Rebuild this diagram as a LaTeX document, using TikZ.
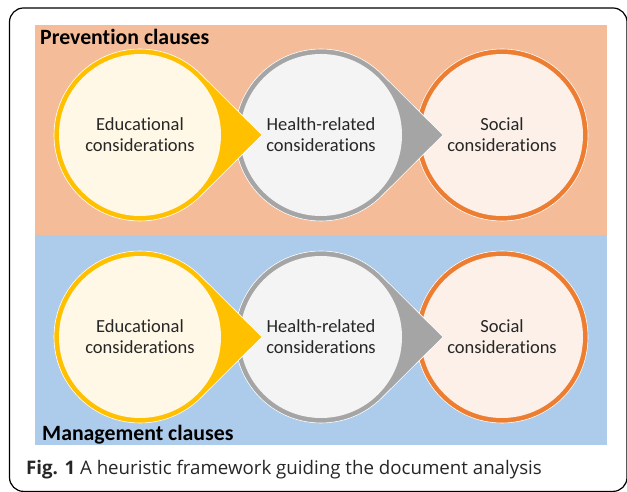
\documentclass[tikz,border=0pt]{standalone}
\usepackage{fontspec}
\setmainfont{Carlito}[Ligatures=NoCommon]
\newfontfamily\capfont{Open Sans}
\usetikzlibrary{calc}
\newcommand*{\crad}{86}
\newcommand*{\tipd}{122}
\newcommand*{\tang}{45.2}
\definecolor{panelorange}{HTML}{F4BC98}
\definecolor{panelblue}{HTML}{ADCBEA}
\definecolor{edustroke}{HTML}{FFC000}
\definecolor{edufill}{HTML}{FFF8E6}
\definecolor{hltstroke}{HTML}{A5A5A5}
\definecolor{hltfill}{HTML}{F4F4F4}
\definecolor{socstroke}{HTML}{ED7D31}
\definecolor{socfill}{HTML}{FCF0E9}

\begin{document}
\begin{tikzpicture}[x=1pt, y=1pt,
    ring/.style   = {draw=white, line width=0.6pt},
    bubble/.style = {circle, minimum size=162pt, inner sep=0pt, align=center, text=black!85,
                     font=\fontsize{18.5}{21}\selectfont},
    heading/.style= {anchor=west, inner sep=0pt, font=\bfseries\fontsize{21.8}{24}\selectfont}]
    \useasboundingbox (0,0) rectangle (627,492);
    \draw [line width=1.2pt, rounded corners=14pt] (9.5,0.6) rectangle (627,484);
    \fill [panelorange] (35,257) rectangle (607,467);
    \fill [panelblue]   (35,47)  rectangle (607,257);
    \foreach \y/\r in {357/p, 155/m} {
        \filldraw [ring, fill=socstroke] (502,\y) circle (\crad);
        \node [bubble, fill=socfill] (soc\r) at (502,\y) {Social\\considerations};
        \filldraw [ring, fill=hltstroke] (321,\y) ++(\tang:\crad) arc [start angle=\tang, end angle=360-\tang, radius=\crad] -- (321+\tipd,\y) -- cycle;
        \node [bubble, fill=hltfill] (hlt\r) at (321,\y) {Health-related\\considerations};
        \filldraw [ring, fill=edustroke] (140,\y) ++(\tang:\crad) arc [start angle=\tang, end angle=360-\tang, radius=\crad] -- (140+\tipd,\y) -- cycle;
        \node [bubble, fill=edufill] (edu\r) at (140,\y) {Educational\\considerations};
    }
    \node [heading] (prev) at (40,455) {Prevention clauses};
    \node [heading] (mgmt) at (42,57)  {Management clauses};
    \node [anchor=west, inner sep=0pt, text=black!85, font=\capfont\fontsize{18.7}{22}\selectfont] (caption) at (26,22)
        {\textbf{Fig. 1} A heuristic framework guiding the document analysis};
\end{tikzpicture}
\end{document}
